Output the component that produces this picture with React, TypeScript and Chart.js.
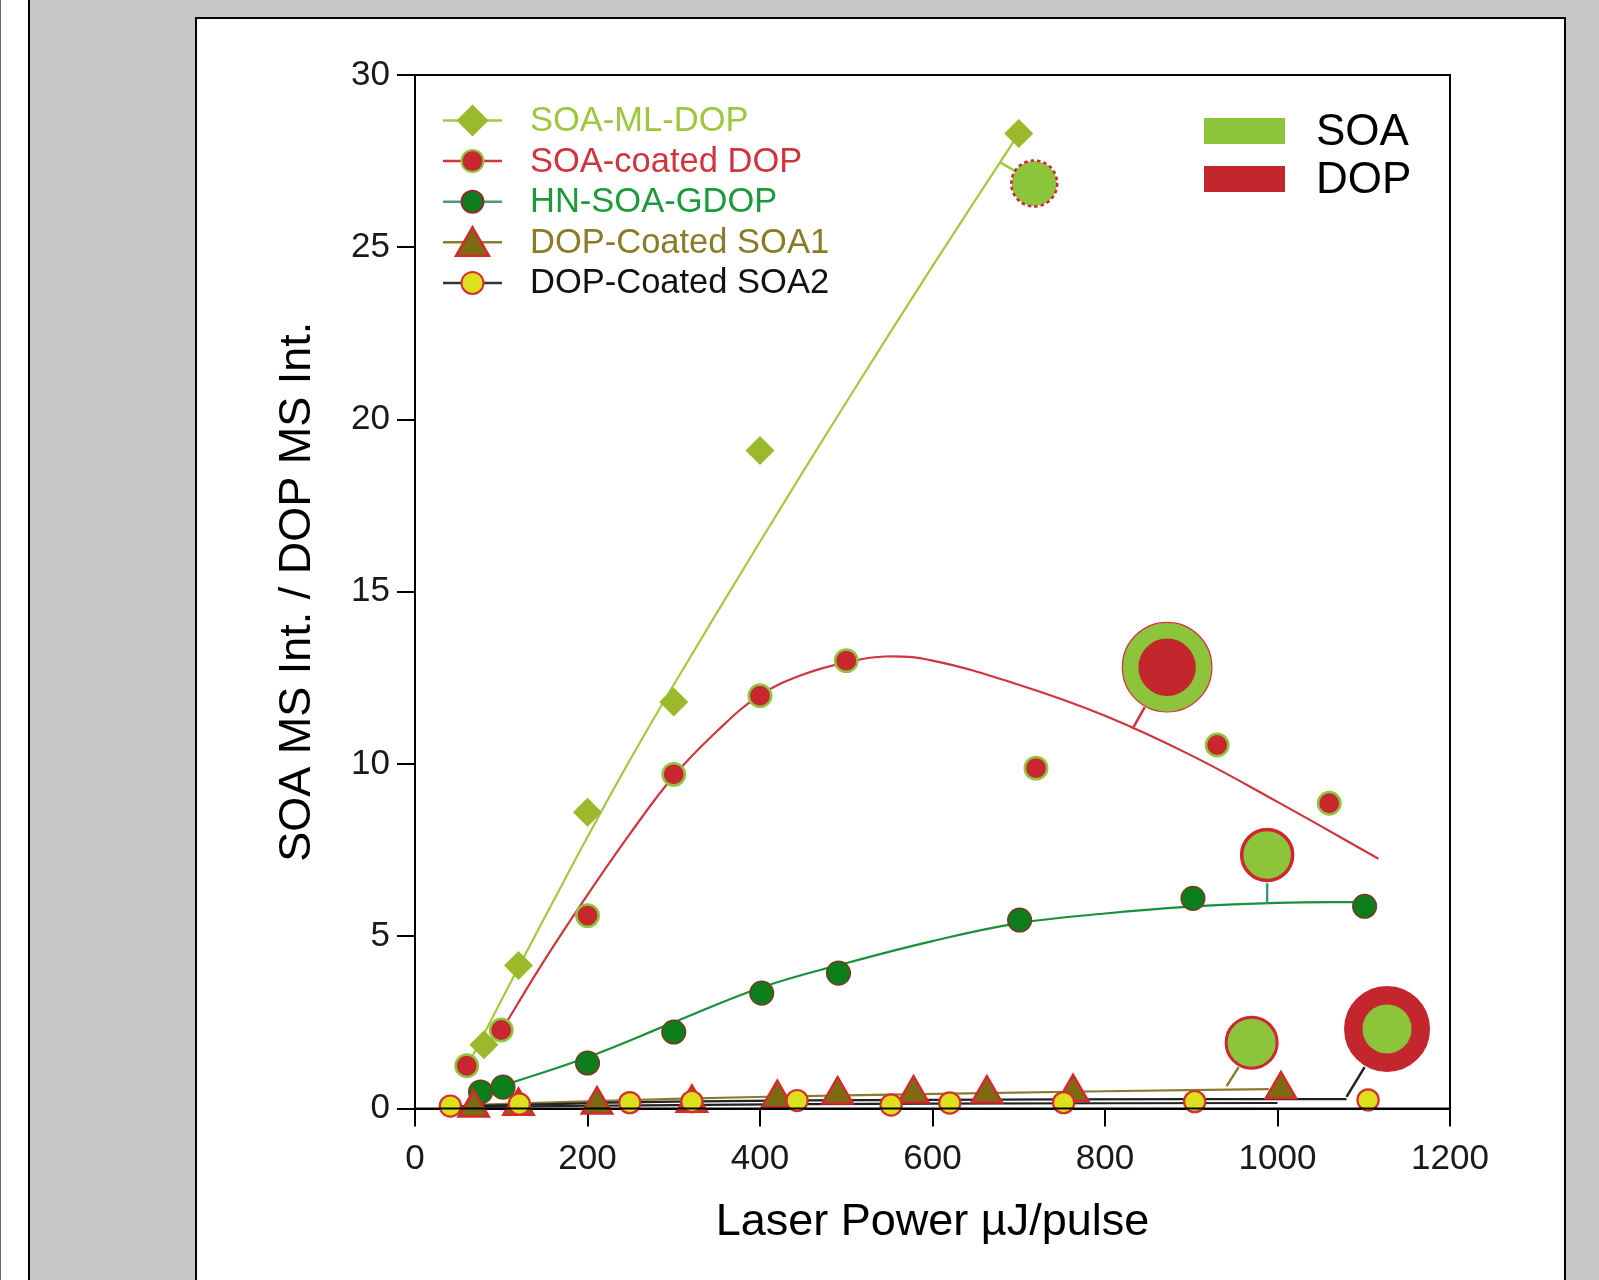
import React, { useEffect, useRef } from "react";
import { Chart, registerables } from "chart.js";
Chart.register(...registerables);

const FONT = "'Liberation Sans', Arial, Helvetica, sans-serif";

// ---- axis ticks ----
const xTickValues = [0, 200, 400, 600, 800, 1000, 1200];
const yTickValues = [0, 5, 10, 15, 20, 25, 30];

// ---- measured series ----
const soaMlDopX = [80, 120, 200, 300, 400, 700];
const soaMlDopY = [1.85, 4.15, 8.6, 11.8, 19.1, 28.3];

const soaCoatedDopX = [60, 100, 200, 300, 400, 500, 720, 930, 1060];
const soaCoatedDopY = [1.24, 2.28, 5.6, 9.7, 11.98, 13.0, 9.88, 10.55, 8.86];

const hnSoaGdopX = [76, 102, 200, 300, 402, 491, 701, 902, 1101];
const hnSoaGdopY = [0.48, 0.62, 1.32, 2.22, 3.35, 3.93, 5.47, 6.1, 5.87];

const dopSoa1X = [68, 120, 211, 321, 420, 490, 578, 663, 763, 1004];
const dopSoa1Y = [0.02, 0.07, 0.11, 0.16, 0.3, 0.4, 0.43, 0.43, 0.47, 0.55];

const dopSoa2X = [41, 121, 249, 321, 443, 552, 620, 752, 904, 1105];
const dopSoa2Y = [0.07, 0.13, 0.17, 0.2, 0.23, 0.1, 0.16, 0.17, 0.2, 0.25];

// ---- fitted curves ----
const fitMlX = [60, 120, 160, 200, 250, 300, 400, 500, 600, 700];
const fitMlY = [1.2, 4.1, 6.0, 7.88, 10.15, 12.3, 16.45, 20.5, 24.45, 28.3];

const fitRedX = [100, 150, 200, 250, 300, 350, 400, 450, 500, 545, 600, 700, 800, 900, 1000, 1117];
const fitRedY = [2.25, 4.3, 6.2, 8.0, 9.65, 10.95, 12.0, 12.6, 12.95, 13.12, 13.0, 12.3, 11.4, 10.25, 8.9, 7.25];

const fitHnX = [100, 200, 300, 400, 500, 600, 700, 800, 900, 1000, 1100];
const fitHnY = [0.65, 1.49, 2.5, 3.5, 4.22, 4.86, 5.38, 5.66, 5.86, 5.97, 6.0];

const fitSoa1X = [60, 300, 516, 800, 990];
const fitSoa1Y = [0.1, 0.28, 0.39, 0.5, 0.56];

const fitSoa2AX = [40, 300, 600, 900, 1080];
const fitSoa2AY = [0.06, 0.2, 0.25, 0.27, 0.27];
const fitSoa2BX = [40, 300, 600, 1000];
const fitSoa2BY = [0.04, 0.1, 0.14, 0.16];

// ---- SOA / DOP callout bubbles ----
const calloutX = [718, 872, 988, 970, 1127];
const calloutY = [26.85, 12.81, 7.36, 1.91, 2.31];

// leader lines
const leaderFromX = [678, 846, 988, 955, 1101];
const leaderFromY = [27.47, 11.65, 6.54, 1.2, 1.2];
const leaderToX = [698, 832, 988, 941, 1080];
const leaderToY = [27.18, 11.02, 5.96, 0.65, 0.34];

const legendLabels = ["SOA-ML-DOP", "SOA-coated DOP", "HN-SOA-GDOP", "DOP-Coated SOA1", "DOP-Coated SOA2"];
const compLabels = ["SOA", "DOP"];

// ---- styles ----
const C = {
  ml: "#9aba2c",
  mlLine: "#a3c93f",
  mlText: "#9cc83e",
  red: "#c8272f",
  redLine: "#d0343c",
  lightGreen: "#8dc63f",
  hn: "#0b7d1a",
  hnLine: "#179238",
  hnText: "#1c9a3a",
  hnBorder: "#7a3a22",
  olive: "#7d6a12",
  oliveLine: "#8b7b2e",
  oliveText: "#8b7b25",
  tri: "#d42a2a",
  yellow: "#dfe01d",
  soa: "#8cc43c",
  dop: "#c4262e",
};

const calloutStyle = {
  bg: [C.soa, C.dop, C.soa, C.soa, C.soa],
  border: [C.soa, C.soa, "#d0262e", "#d0262e", C.dop],
  radius: [22.5, 36.6, 25.5, 25.5, 33.75],
  width: [0, 15.8, 3.5, 3, 18.5],
};
const leaderColors = [C.mlLine, C.redLine, "#3a9a80", C.oliveLine, "#222"];

const pts = (xs: number[], ys: number[]) => xs.map((x, i) => ({ x, y: ys[i] }));

function drawMarker(ctx: CanvasRenderingContext2D, kind: string, x: number, y: number, r: number, fill: string, stroke: string, bw: number) {
  ctx.beginPath();
  if (kind === "diamond") {
    ctx.moveTo(x - r, y);
    ctx.lineTo(x, y - r);
    ctx.lineTo(x + r, y);
    ctx.lineTo(x, y + r);
    ctx.closePath();
  } else if (kind === "triangle") {
    for (let k = 0; k < 3; k++) {
      const a = (k * 2 * Math.PI) / 3;
      const px = x + Math.sin(a) * r;
      const py = y - Math.cos(a) * r;
      if (k === 0) ctx.moveTo(px, py);
      else ctx.lineTo(px, py);
    }
    ctx.closePath();
  } else {
    ctx.arc(x, y, r, 0, Math.PI * 2);
  }
  ctx.fillStyle = fill;
  ctx.fill();
  if (bw > 0) {
    ctx.lineWidth = bw;
    ctx.strokeStyle = stroke;
    ctx.stroke();
  }
}

const framePlugin = {
  id: "frameBox",
  afterDraw(chart: any) {
    const { ctx, chartArea } = chart;
    ctx.save();
    ctx.strokeStyle = "#000";
    ctx.lineWidth = 2;
    ctx.strokeRect(chartArea.left, chartArea.top, chartArea.right - chartArea.left, chartArea.bottom - chartArea.top);
    ctx.restore();
  },
};

const calloutRingPlugin = {
  id: "calloutRings",
  afterDatasetsDraw(chart: any) {
    const idx = chart.data.datasets.findIndex((d: any) => d.label === "callouts");
    if (idx < 0) return;
    const els = chart.getDatasetMeta(idx).data;
    const ctx = chart.ctx;
    ctx.save();
    if (els[0]) {
      ctx.setLineDash([3.5, 3]);
      ctx.strokeStyle = "#d0262e";
      ctx.lineWidth = 2.5;
      ctx.beginPath();
      ctx.arc(els[0].x, els[0].y, 23, 0, Math.PI * 2);
      ctx.stroke();
    }
    if (els[1]) {
      ctx.setLineDash([]);
      ctx.strokeStyle = "#d0343c";
      ctx.lineWidth = 1.2;
      ctx.beginPath();
      ctx.arc(els[1].x, els[1].y, 44.8, 0, Math.PI * 2);
      ctx.stroke();
    }
    ctx.restore();
  },
};

const legendPlugin = {
  id: "customLegend",
  afterDraw(chart: any) {
    const ctx: CanvasRenderingContext2D = chart.ctx;
    const { left, top } = chart.chartArea;
    ctx.save();
    const lineCols = [C.mlLine, C.redLine, "#4a9a78", C.oliveLine, "#333"];
    const textCols = [C.mlText, C.redLine, C.hnText, C.oliveText, "#111"];
    const markers: [string, number, string, string, number, number][] = [
      ["diamond", 16, C.ml, C.ml, 0, 0],
      ["circle", 11, C.red, C.lightGreen, 2, 0],
      ["circle", 11, C.hn, "#8a2f2f", 2, 0],
      ["triangle", 19, C.olive, C.tri, 2.5, 4],
      ["circle", 11, C.yellow, "#d43030", 2, 0],
    ];
    legendLabels.forEach((label, i) => {
      const y = top + 45.5 + i * 40.6;
      ctx.strokeStyle = lineCols[i];
      ctx.lineWidth = 2.5;
      ctx.beginPath();
      ctx.moveTo(left + 28, y);
      ctx.lineTo(left + 87, y);
      ctx.stroke();
      const m = markers[i];
      drawMarker(ctx, m[0], left + 57.5, y + m[5], m[1], m[2], m[3], m[4]);
      ctx.fillStyle = textCols[i];
      ctx.font = `34.5px ${FONT}`;
      ctx.textBaseline = "middle";
      ctx.textAlign = "left";
      ctx.fillText(label, left + 115, y + 1);
    });
    const comps = [C.soa, C.dop];
    compLabels.forEach((label, i) => {
      const ry = top + 43 + i * 48;
      ctx.fillStyle = comps[i];
      ctx.fillRect(left + 789, ry, 81, 26);
      ctx.fillStyle = "#000";
      ctx.font = `44px ${FONT}`;
      ctx.textBaseline = "middle";
      ctx.fillText(label, left + 901, ry + 15);
    });
    ctx.restore();
  },
};

export default function App() {
  const ref = useRef<HTMLCanvasElement | null>(null);

  useEffect(() => {
    if (!ref.current) return;
    const lineDs = (xs: number[], ys: number[], color: string, width = 2.2) => ({
      data: pts(xs, ys),
      showLine: true,
      borderColor: color,
      borderWidth: width,
      pointRadius: 0,
      tension: 0.4,
      fill: false,
      order: 9,
      clip: false,
    });
    const leaders = leaderFromX.map((_, i) => ({
      data: [
        { x: leaderFromX[i], y: leaderFromY[i] },
        { x: leaderToX[i], y: leaderToY[i] },
      ],
      showLine: true,
      borderColor: leaderColors[i],
      borderWidth: 2.5,
      pointRadius: 0,
      tension: 0,
      order: 8,
      clip: false,
    }));
    const chart = new Chart(ref.current, {
      type: "scatter",
      data: {
        datasets: [
          lineDs(fitMlX, fitMlY, C.mlLine),
          lineDs(fitRedX, fitRedY, C.redLine),
          lineDs(fitHnX, fitHnY, C.hnLine),
          lineDs(fitSoa2AX, fitSoa2AY, "#222", 2.2),
          lineDs(fitSoa2BX, fitSoa2BY, "#222", 2.2),
          lineDs(fitSoa1X, fitSoa1Y, C.oliveLine, 2.2),
          ...leaders,
          {
            label: "HN-SOA-GDOP",
            data: pts(hnSoaGdopX, hnSoaGdopY),
            pointStyle: "circle",
            pointRadius: 11.8,
            backgroundColor: C.hn,
            borderColor: C.hnBorder,
            borderWidth: 1.5,
            order: 5,
            clip: false,
          },
          {
            label: "SOA-ML-DOP",
            data: pts(soaMlDopX, soaMlDopY),
            pointStyle: "rectRot",
            pointRadius: 14.5,
            backgroundColor: C.ml,
            borderColor: C.ml,
            borderWidth: 0,
            order: 4,
            clip: false,
          },
          {
            label: "SOA-coated DOP",
            data: pts(soaCoatedDopX, soaCoatedDopY),
            pointStyle: "circle",
            pointRadius: 11.2,
            backgroundColor: C.red,
            borderColor: C.lightGreen,
            borderWidth: 2.5,
            order: 3,
            clip: false,
          },
          {
            label: "DOP-Coated SOA1",
            data: pts(dopSoa1X, dopSoa1Y),
            pointStyle: "triangle",
            pointRadius: 17.5,
            backgroundColor: C.olive,
            borderColor: C.tri,
            borderWidth: 2.5,
            order: 2,
            clip: false,
          },
          {
            label: "DOP-Coated SOA2",
            data: pts(dopSoa2X, dopSoa2Y),
            pointStyle: "circle",
            pointRadius: 10.6,
            backgroundColor: C.yellow,
            borderColor: "#d43030",
            borderWidth: 2.2,
            order: 1,
            clip: false,
          },
          {
            label: "callouts",
            data: pts(calloutX, calloutY),
            pointStyle: "circle",
            pointRadius: calloutStyle.radius,
            backgroundColor: calloutStyle.bg,
            borderColor: calloutStyle.border,
            borderWidth: calloutStyle.width,
            order: 0,
            clip: false,
          },
        ] as any,
      },
      options: {
        animation: false,
        responsive: false,
        maintainAspectRatio: false,
        events: [],
        layout: { padding: { left: 0, right: 114, top: 56, bottom: 0 } },
        plugins: { legend: { display: false }, tooltip: { enabled: false } },
        scales: {
          x: {
            type: "linear",
            min: 0,
            max: 1200,
            afterBuildTicks: (s: any) => {
              s.ticks = xTickValues.map((v) => ({ value: v }));
            },
            afterFit: (s: any) => {
              s.height = 171.5;
            },
            ticks: {
              font: { family: FONT, size: 35 },
              color: "#1a1a1a",
              padding: 12,
              maxRotation: 0,
              callback: (v: any) => String(v),
            },
            grid: { drawOnChartArea: false, drawTicks: true, tickLength: 18, tickWidth: 2, tickColor: "#000", color: "#000", lineWidth: 2 },
            border: { display: true, color: "#000", width: 2 },
            title: {
              display: true,
              text: "Laser Power µJ/pulse",
              font: { family: FONT, size: 45 },
              color: "#000",
              padding: { top: 0, bottom: 30 },
            },
          },
          y: {
            type: "linear",
            min: 0,
            max: 30,
            afterBuildTicks: (s: any) => {
              s.ticks = yTickValues.map((v) => ({ value: v }));
            },
            afterFit: (s: any) => {
              s.width = 218;
            },
            ticks: { font: { family: FONT, size: 35 }, color: "#1a1a1a", padding: 7, callback: (v: any) => String(v) },
            grid: { drawOnChartArea: false, drawTicks: true, tickLength: 18, tickWidth: 2, tickColor: "#000", color: "#000", lineWidth: 2 },
            border: { display: true, color: "#000", width: 2 },
            title: {
              display: true,
              text: "SOA MS Int. / DOP MS Int.",
              font: { family: FONT, size: 45 },
              color: "#000",
              padding: { top: 74, bottom: 0 },
            },
          },
        },
      },
      plugins: [framePlugin, calloutRingPlugin, legendPlugin],
    });
    return () => chart.destroy();
  }, []);

  return (
    <div style={{ position: "absolute", left: 0, top: 0, width: 1599, height: 1280, background: "#fff", overflow: "hidden" }}>
      <div style={{ position: "absolute", left: 0, top: 0, width: 1, height: 1280, background: "#666" }} />
      <div
        style={{
          position: "absolute",
          left: 28,
          top: 0,
          width: 1599 - 30,
          height: 1280,
          background: "#c6c7c9",
          borderLeft: "2px solid #000",
        }}
      />
      <div
        style={{
          position: "absolute",
          left: 195,
          top: 17,
          width: 1367,
          height: 1300,
          background: "#fff",
          borderLeft: "2px solid #000",
          borderTop: "2px solid #000",
          borderRight: "2px solid #000",
        }}
      >
        <canvas ref={ref} width={1367} height={1261} style={{ display: "block", width: 1367, height: 1261 }} />
      </div>
    </div>
  );
}
